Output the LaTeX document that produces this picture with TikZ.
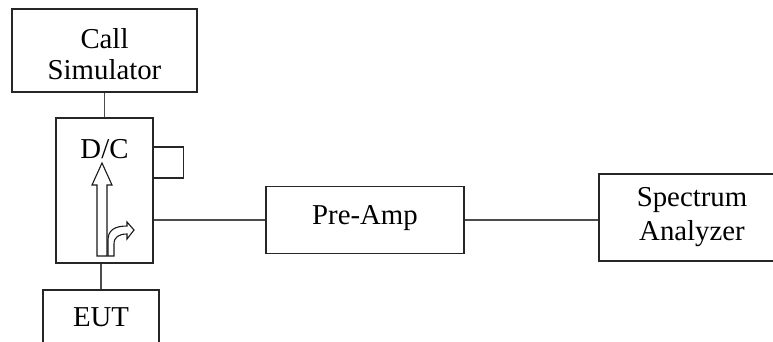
\documentclass[tikz,border=0pt]{standalone}
\usepackage{fontspec}
\setmainfont{Liberation Serif}
\tikzset{
    box/.style={draw=black!85, line width=1.2pt, inner sep=0pt, align=center, font=\fontsize{28.8}{31}\selectfont},
    wire/.style={draw=black!70, line width=1.2pt},
    hollow/.style={draw=black!90, fill=white, line width=1.1pt, line join=miter}
}
\begin{document}
\begin{tikzpicture}[x=1pt, y=-1pt]
            \useasboundingbox (0,0) rectangle (773,341);
            \clip (0,0) rectangle (773,341);
            \node[box, minimum width=185, minimum height=83] (sim) at (104.5,50.5) {\rule{0pt}{28pt}Call\\Simulator};
            \node[box, minimum width=97, minimum height=145] (dc) at (104.5,190.5) {};
            \node[box, minimum width=30, minimum height=31, anchor=west] (port) at (153,162.5) {};
            \node[box, minimum width=116, minimum height=54] (eut) at (101,317) {EUT};
            \node[box, minimum width=198, minimum height=67, text height=20pt, text depth=12pt] (preamp) at (365,220) {Pre-Amp};
            \node[box, minimum width=186, minimum height=87, font=\fontsize{28.8}{34}\selectfont] (spec) at (692,217.5) {Spectrum\\Analyzer};
            \node[anchor=base, inner sep=0pt, font=\fontsize{28.8}{34}\selectfont] (dctext) at (104.5,158) {D/C};
            \draw[wire] (sim.south -| dc.north) -- (dc.north);
            \draw[wire] (dc.south -| eut.north) -- (eut.north);
            \draw[wire] (dc.east |- preamp.west) -- (preamp.west);
            \draw[wire] (preamp.east) -- (preamp.east -| spec.west);
            \draw[hollow] (97,256) -- (97,185) -- (92,185) -- (102,163) -- (112,185) -- (107,185) -- (107,256) -- cycle;
            \draw[hollow] (108,256) -- (108,240) .. controls (108,230) and (115,226) .. (127,226) -- (127,222) -- (134,230) -- (127,239) -- (127,234) .. controls (119,234) and (114,237) .. (114,244) -- (114,256) -- cycle;
        \end{tikzpicture}
\end{document}
